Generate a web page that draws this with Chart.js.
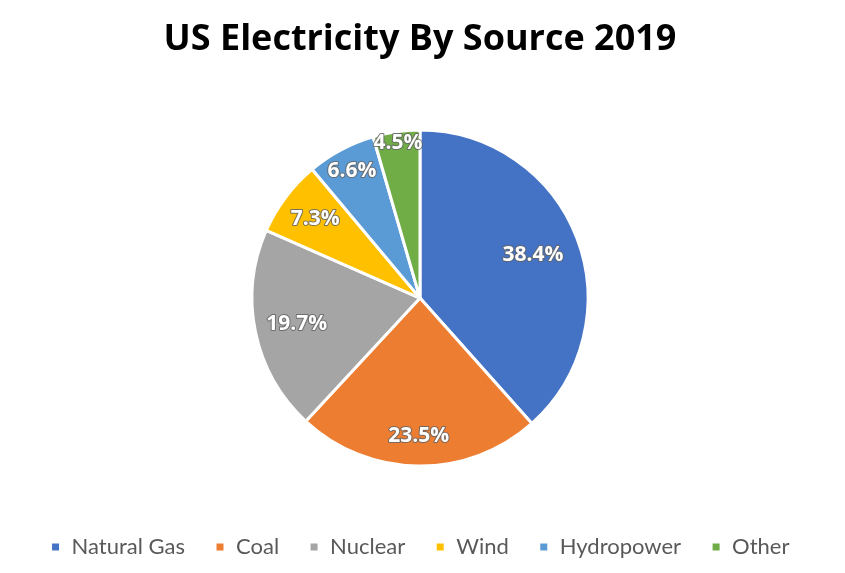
<!DOCTYPE html>
<html>
<head>
<meta charset="utf-8">
<script src="https://cdn.jsdelivr.net/npm/chart.js@4"></script>
<style>
  html, body { margin: 0; padding: 0; background: #fff; }
  #wrap { width: 845px; height: 573px; }
</style>
</head>
<body>
<div id="wrap"><canvas id="pieChart"></canvas></div>
<script>
const sources = ["Natural Gas", "Coal", "Nuclear", "Wind", "Hydropower", "Other"];
const shares = [38.4, 23.5, 19.7, 7.3, 6.6, 4.5];
const colors = ["#4472C4", "#ED7D31", "#A5A5A5", "#FFC000", "#5B9BD5", "#70AD47"];

// how far out each label sits (fraction of radius), like Excel's best fit
const labelRadius = [0.72, 0.82, 0.75, 0.78, 0.86, 0.93];

const sliceLabels = {
    id: 'sliceLabels',
    afterDatasetsDraw(chart) {
        const ctx = chart.ctx;
        const meta = chart.getDatasetMeta(0);
        ctx.save();
        ctx.font = 'bold 21px "Open Sans", Lato, sans-serif';
        ctx.textAlign = 'center';
        ctx.textBaseline = 'middle';
        ctx.lineJoin = 'round';
        meta.data.forEach((arc, i) => {
            const mid = (arc.startAngle + arc.endAngle) / 2;
            const r = arc.outerRadius * labelRadius[i];
            const x = arc.x + Math.cos(mid) * r;
            const y = arc.y + Math.sin(mid) * r;
            const txt = shares[i].toFixed(1) + '%';
            ctx.lineWidth = 2;
            ctx.strokeStyle = 'rgba(100,100,100,0.85)';
            ctx.strokeText(txt, x, y);
            ctx.fillStyle = '#ffffff';
            ctx.fillText(txt, x, y);
        });
        ctx.restore();
    }
};

let ctx = document.getElementById('pieChart');

new Chart(ctx, {
    type: 'pie',
    data: {
        labels: sources,
        datasets: [{
            data: shares,
            backgroundColor: colors,
            borderColor: '#ffffff',
            borderWidth: 3,
            radius: 168
        }]
    },
    options: {
        responsive: true,
        maintainAspectRatio: false,
        animation: false,
        layout: { padding: { top: 0, bottom: 5, left: 0, right: 5 } },
        plugins: {
            title: {
                display: true,
                text: 'US Electricity By Source 2019',
                color: '#000000',
                font: { family: '"Open Sans", Lato, sans-serif', size: 36, weight: 'bold' },
                padding: { top: 18, bottom: 29 }
            },
            legend: {
                position: 'bottom',
                labels: {
                    color: '#595959',
                    font: { family: 'Lato, "Open Sans", sans-serif', size: 22 },
                    boxWidth: 10,
                    boxHeight: 10,
                    padding: 30
                }
            },
            tooltip: { enabled: false }
        }
    },
    plugins: [sliceLabels]
});
</script>
</body>
</html>
